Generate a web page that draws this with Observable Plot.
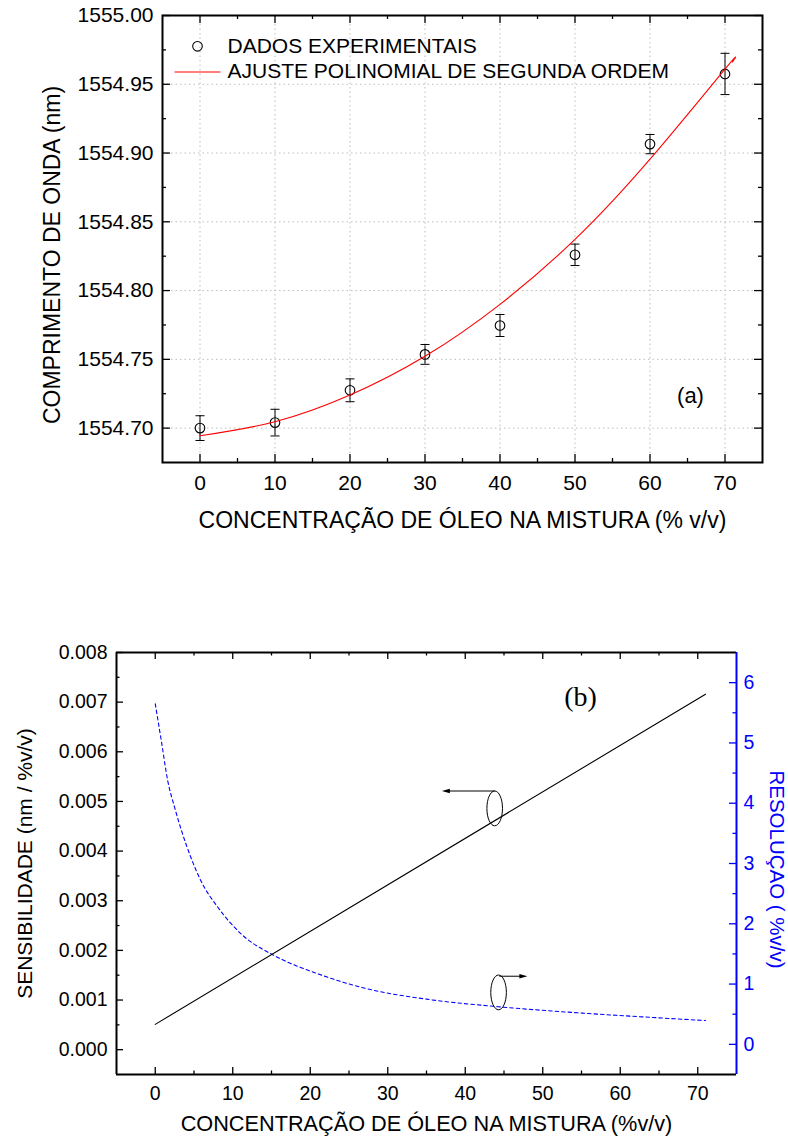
<!DOCTYPE html>
<html>
<head>
<meta charset="utf-8">
<script src="https://cdn.jsdelivr.net/npm/d3@7"></script>
<script src="https://cdn.jsdelivr.net/npm/@observablehq/plot@0.6"></script>
<style>
  html, body { margin: 0; padding: 0; background: #fff; }
  #page { position: relative; width: 788px; height: 1137px; overflow: hidden; background: #fff; }
  #page svg { position: absolute; left: 0; }
</style>
</head>
<body>
<div id="page"></div>
<script>
// ---------- (a) wavelength vs. oil concentration ----------
const concentration   = [0, 10, 20, 30, 40, 50, 60, 70];
const wavelength      = [1554.700, 1554.704, 1554.7275, 1554.7536, 1554.7746, 1554.826, 1554.9065, 1554.9575];
const wavelengthError = [0.009, 0.0097, 0.0083, 0.0072, 0.008, 0.0078, 0.007, 0.015];

// second-order polynomial fit, sampled along the drawn curve
const fitConcentration = [0, 10, 20, 30, 40, 50, 60, 70, 71];
const fitWavelength    = [1554.6944, 1554.7046, 1554.7240, 1554.7522, 1554.7900, 1554.8372, 1554.8955, 1554.9610, 1554.9662];

// ---------- (b) sensitivity and resolution ----------
const sensConcentration = [0, 71];
const sensitivity       = [0.00051, 0.00716];

const resConcentration = [0, 0.8, 1.6, 2.5, 3.4, 4.6, 5.9, 8.1, 11.1, 15.4, 21, 27.4, 35, 44.2, 54.9, 63, 71];
const resolution       = [5.65, 5.02, 4.38, 3.93, 3.54, 3.10, 2.71, 2.27, 1.83, 1.47, 1.17, 0.92, 0.75, 0.625, 0.52, 0.455, 0.395];

// ---------- ticks ----------
const xTicks      = [0, 10, 20, 30, 40, 50, 60, 70];
const xMinorTicks = [5, 15, 25, 35, 45, 55, 65];
const waveTicks      = [1554.70, 1554.75, 1554.80, 1554.85, 1554.90, 1554.95, 1555.00];
const waveMinorTicks = [1554.725, 1554.775, 1554.825, 1554.875, 1554.925, 1554.975];
const sensTicks      = [0, 0.001, 0.002, 0.003, 0.004, 0.005, 0.006, 0.007, 0.008];
const sensMinorTicks = [0.0005, 0.0015, 0.0025, 0.0035, 0.0045, 0.0055, 0.0065, 0.0075];
const resTicks       = [0, 1, 2, 3, 4, 5, 6];
const resMinorTicks  = [0.5, 1.5, 2.5, 3.5, 4.5, 5.5];

// ---------- texts ----------
const xTitleA   = "CONCENTRAÇÃO DE ÓLEO NA MISTURA (% v/v)";
const yTitleA   = "COMPRIMENTO DE ONDA (nm)";
const legendA   = ["DADOS EXPERIMENTAIS", "AJUSTE POLINOMIAL DE SEGUNDA ORDEM"];
const xTitleB   = "CONCENTRAÇÃO DE ÓLEO NA MISTURA (%v/v)";
const yTitleB   = "SENSIBILIDADE (nm / %v/v)";
const y2TitleB  = "RESOLUÇAO ( %v/v)";

const FONT = '"Liberation Sans", Arial, Helvetica, sans-serif';
const W = 788;
const xDomain = [-5, 75];

// small custom symbols
const capSymbol = { draw(ctx) { ctx.moveTo(-4.5, 0); ctx.lineTo(4.5, 0); } };
const legendLineSymbol = { draw(ctx) { ctx.moveTo(-23, 0); ctx.lineTo(23, 0); } };
const ellipseSymbol = { draw(ctx) {
  const rx = 7.8, ry = 17.4, k = 0.5523;
  ctx.moveTo(rx, 0);
  ctx.bezierCurveTo(rx, k * ry, k * rx, ry, 0, ry);
  ctx.bezierCurveTo(-k * rx, ry, -rx, k * ry, -rx, 0);
  ctx.bezierCurveTo(-rx, -k * ry, -k * rx, -ry, 0, -ry);
  ctx.bezierCurveTo(k * rx, -ry, rx, -k * ry, rx, 0);
  ctx.closePath();
} };
const headLeft  = { draw(ctx) { ctx.moveTo(-4, 0); ctx.lineTo(4, -2.2); ctx.lineTo(4, 2.2); ctx.closePath(); } };
const headRight = { draw(ctx) { ctx.moveTo(4, 0); ctx.lineTo(-4, -2.2); ctx.lineTo(-4, 2.2); ctx.closePath(); } };

const page = document.getElementById("page");

// ================= chart (a) =================
{
  const H = 560, m = { top: 15, right: 26, bottom: 98, left: 162 };
  const innerW = W - m.left - m.right, innerH = H - m.top - m.bottom;
  const rows = concentration.map((c, i) => ({ c, w: wavelength[i], e: wavelengthError[i] }));
  const fit = fitConcentration.map((c, i) => ({ c, w: fitWavelength[i] }));
  const major = 8, minor = 4;

  const svg = Plot.plot({
    width: W, height: H,
    marginTop: m.top, marginRight: m.right, marginBottom: m.bottom, marginLeft: m.left,
    style: { fontFamily: FONT, fontSize: "21px", color: "black", background: "white" },
    x: { domain: xDomain, label: null },
    y: { domain: [1554.675, 1555.0], label: null },
    marks: [
      Plot.gridX(xTicks, { stroke: "#bdbdbd", strokeOpacity: 1, strokeDasharray: "1.5,3" }),
      Plot.gridY(waveTicks, { stroke: "#bdbdbd", strokeOpacity: 1, strokeDasharray: "1.5,3" }),
      // error bars
      Plot.ruleX(rows, { x: "c", y1: d => d.w - d.e, y2: d => d.w + d.e, stroke: "black", strokeWidth: 1 }),
      Plot.dot(rows, { x: "c", y: d => d.w + d.e, symbol: capSymbol, stroke: "black", fill: "none", strokeWidth: 1 }),
      Plot.dot(rows, { x: "c", y: d => d.w - d.e, symbol: capSymbol, stroke: "black", fill: "none", strokeWidth: 1 }),
      // measurements
      Plot.dot(rows, { x: "c", y: "w", r: 4.8, stroke: "black", fill: "none", strokeWidth: 1.1 }),
      // polynomial fit
      Plot.line(fit, { x: "c", y: "w", stroke: "#ff0000", strokeWidth: 1.1, curve: "natural" }),
      // frame and inward ticks
      Plot.frame({ stroke: "black", strokeWidth: 2 }),
      Plot.ruleX(xTicks, { insetTop: innerH - major, stroke: "black", strokeWidth: 1.3 }),
      Plot.ruleX(xMinorTicks, { insetTop: innerH - minor, stroke: "black", strokeWidth: 1.3 }),
      Plot.ruleX(xTicks, { insetBottom: innerH - major, stroke: "black", strokeWidth: 1.3 }),
      Plot.ruleX(xMinorTicks, { insetBottom: innerH - minor, stroke: "black", strokeWidth: 1.3 }),
      Plot.ruleY(waveTicks, { insetRight: innerW - major, stroke: "black", strokeWidth: 1.3 }),
      Plot.ruleY(waveMinorTicks, { insetRight: innerW - minor, stroke: "black", strokeWidth: 1.3 }),
      Plot.ruleY(waveTicks, { insetLeft: innerW - major, stroke: "black", strokeWidth: 1.3 }),
      Plot.ruleY(waveMinorTicks, { insetLeft: innerW - minor, stroke: "black", strokeWidth: 1.3 }),
      // tick labels
      Plot.axisX(xTicks, { anchor: "bottom", tickSize: 0, tickPadding: 13, fontSize: 21, label: null }),
      Plot.axisY(waveTicks, { anchor: "left", tickSize: 0, tickPadding: 9, fontSize: 21, label: null, tickFormat: d3.format(".2f") }),
      // titles
      Plot.text([xTitleA], { text: d => d, frameAnchor: "bottom", textAnchor: "middle", lineAnchor: "middle", dy: 58, fontSize: 23 }),
      Plot.text([yTitleA], { text: d => d, frameAnchor: "left", textAnchor: "middle", lineAnchor: "middle", dx: -109.5, dy: 16, rotate: -90, fontSize: 23 }),
      // legend
      Plot.dot([0], { frameAnchor: "top-left", dx: 35, dy: 30.8, r: 4.8, stroke: "black", fill: "none", strokeWidth: 1.1 }),
      Plot.dot([0], { frameAnchor: "top-left", dx: 35, dy: 56.5, symbol: legendLineSymbol, stroke: "#ff0000", fill: "none", strokeWidth: 1.2 }),
      Plot.text([legendA[0]], { text: d => d, frameAnchor: "top-left", dx: 65, dy: 30.8, textAnchor: "start", lineAnchor: "middle", fontSize: 21 }),
      Plot.text([legendA[1]], { text: d => d, frameAnchor: "top-left", dx: 65, dy: 56.2, textAnchor: "start", lineAnchor: "middle", fontSize: 21 }),
      // panel tag
      Plot.text(["(a)"], { text: d => d, frameAnchor: "top-left", dx: 528, dy: 380, textAnchor: "middle", lineAnchor: "middle", fontSize: 22 })
    ]
  });
  svg.style.top = "0px";
  page.appendChild(svg);
}

// ================= chart (b) =================
{
  const top = 560, H = 577, m = { top: 92, right: 52, bottom: 63, left: 116 };
  const innerW = W - m.left - m.right, innerH = H - m.top - m.bottom;
  const sensDomain = [-0.0005, 0.008];
  const resDomain = [-0.5, 6.5];
  // resolution values are placed on the sensitivity scale through this linear map
  const toSens = d3.scaleLinear().domain(resDomain).range(sensDomain);
  const major = 7, minor = 3.5;

  const sensRows = sensConcentration.map((c, i) => ({ c, s: sensitivity[i] }));
  const resRows = resConcentration.map((c, i) => ({ c, r: resolution[i] }));

  const svg = Plot.plot({
    width: W, height: H,
    marginTop: m.top, marginRight: m.right, marginBottom: m.bottom, marginLeft: m.left,
    style: { fontFamily: FONT, fontSize: "19.5px", color: "black", background: "white" },
    x: { domain: xDomain, label: null },
    y: { domain: sensDomain, label: null },
    marks: [
      Plot.line(resRows, { x: "c", y: d => toSens(d.r), stroke: "#0000ff", strokeWidth: 1.1, strokeDasharray: "3.5,3", curve: "monotone-x" }),
      Plot.line(sensRows, { x: "c", y: "s", stroke: "black", strokeWidth: 1.1 }),
      // axes lines
      Plot.ruleX([xDomain[0]], { stroke: "black", strokeWidth: 2 }),
      Plot.ruleY([sensDomain[0]], { stroke: "black", strokeWidth: 2 }),
      Plot.ruleY([sensDomain[1]], { stroke: "black", strokeWidth: 2 }),
      Plot.ruleX([xDomain[1]], { stroke: "#0000ff", strokeWidth: 2 }),
      // inward ticks
      Plot.ruleX(xTicks, { insetTop: innerH - major, stroke: "black", strokeWidth: 1.3 }),
      Plot.ruleX(xMinorTicks, { insetTop: innerH - minor, stroke: "black", strokeWidth: 1.3 }),
      Plot.ruleX(xTicks, { insetBottom: innerH - major, stroke: "black", strokeWidth: 1.3 }),
      Plot.ruleX(xMinorTicks, { insetBottom: innerH - minor, stroke: "black", strokeWidth: 1.3 }),
      Plot.ruleY(sensTicks, { insetRight: innerW - major, stroke: "black", strokeWidth: 1.3 }),
      Plot.ruleY(sensMinorTicks, { insetRight: innerW - minor, stroke: "black", strokeWidth: 1.3 }),
      Plot.ruleY(resTicks.map(toSens), { insetLeft: innerW - major, stroke: "#0000ff", strokeWidth: 1.3 }),
      Plot.ruleY(resMinorTicks.map(toSens), { insetLeft: innerW - minor, stroke: "#0000ff", strokeWidth: 1.3 }),
      // tick labels
      Plot.axisX(xTicks, { anchor: "bottom", tickSize: 0, tickPadding: 12, fontSize: 19.5, label: null }),
      Plot.axisY(sensTicks, { anchor: "left", tickSize: 0, tickPadding: 9, fontSize: 19.5, label: null, tickFormat: d3.format(".3f") }),
      Plot.axisY(resTicks.map(toSens), { anchor: "right", tickSize: 0, tickPadding: 7, fontSize: 19.5, label: null, fill: "#0000ff", color: "#0000ff", tickFormat: d => String(Math.round(toSens.invert(d))) }),
      // titles
      Plot.text([xTitleB], { text: d => d, frameAnchor: "bottom", textAnchor: "middle", lineAnchor: "middle", dy: 50, fontSize: 21.7 }),
      Plot.text([yTitleB], { text: d => d, frameAnchor: "left", textAnchor: "middle", lineAnchor: "middle", dx: -91, dy: 0, rotate: -90, fontSize: 21 }),
      Plot.text([y2TitleB], { text: d => d, frameAnchor: "right", textAnchor: "middle", lineAnchor: "middle", dx: 40.5, dy: 6, rotate: 90, fontSize: 20.5, fill: "#0000ff" }),
      // annotation: sensitivity curve -> left axis
      Plot.dot([0], { x: 43.8, y: 0.00486, symbol: ellipseSymbol, stroke: "black", fill: "none", strokeWidth: 1 }),
      Plot.link([0], { x1: 43.8, y1: 0.00521, x2: 37.5, y2: 0.00521, stroke: "black", strokeWidth: 1 }),
      Plot.dot([0], { x: 37.5, y: 0.00521, symbol: headLeft, fill: "black", stroke: "none" }),
      // annotation: resolution curve -> right axis
      Plot.dot([0], { x: 44.3, y: toSens(0.862), symbol: ellipseSymbol, stroke: "black", fill: "none", strokeWidth: 1 }),
      Plot.link([0], { x1: 44.4, y1: toSens(1.13), x2: 47.5, y2: toSens(1.13), stroke: "black", strokeWidth: 1 }),
      Plot.dot([0], { x: 47.5, y: toSens(1.13), symbol: headRight, fill: "black", stroke: "none" }),
      // panel tag
      Plot.text(["(b)"], { text: d => d, frameAnchor: "top-left", dx: 464, dy: 45, textAnchor: "middle", lineAnchor: "middle", fontSize: 28, fontFamily: '"Liberation Serif", "Times New Roman", serif' })
    ]
  });
  svg.style.top = top + "px";
  page.appendChild(svg);
}
</script>
</body>
</html>
